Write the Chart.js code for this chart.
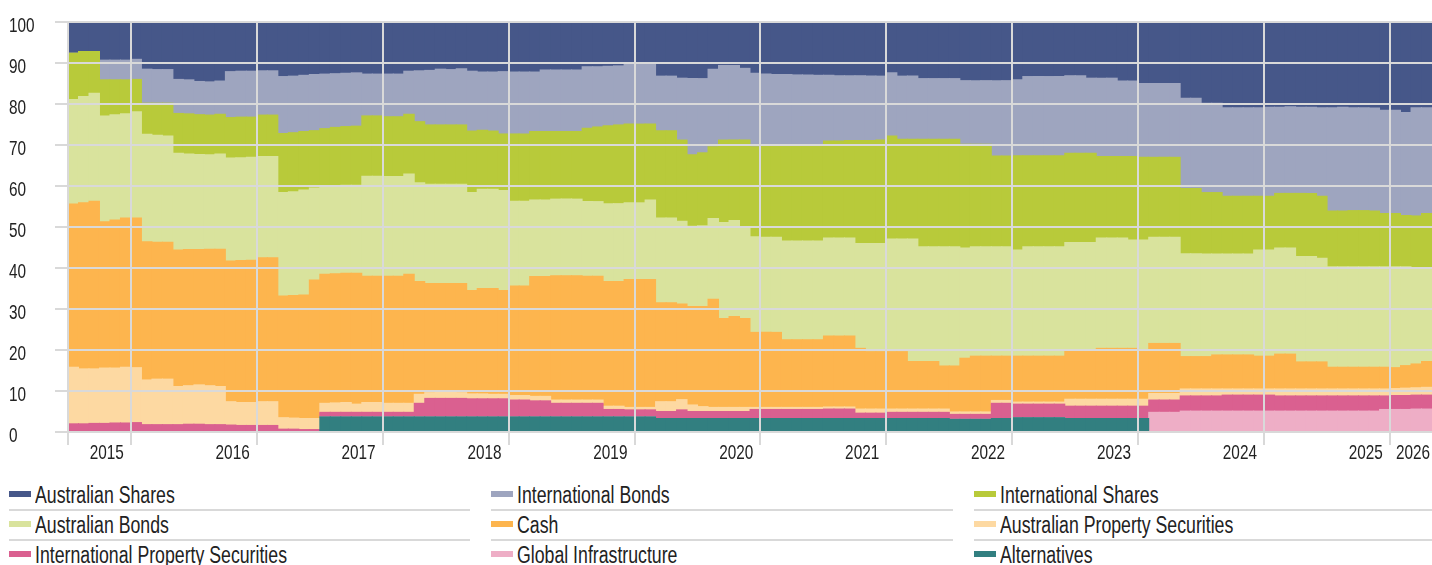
<!DOCTYPE html>
<html>
<head>
<meta charset="utf-8">
<script src="https://cdn.jsdelivr.net/npm/chart.js@4"></script>
<style>
  body { margin: 0; background: #fff; width: 1432px; height: 565px; overflow: hidden;
         font-family: 'Liberation Sans', Arial, sans-serif; }
  #wrap { position: absolute; left: 0; top: 0; width: 1432px; height: 470px; }
  #legend { position: absolute; left: 9px; top: 481px; display: grid;
            grid-template-columns: 461px 462px 459px; column-gap: 21px; }
  .item { position: relative; height: 28px; border-bottom: 2px solid #d9d9d9; padding-left: 26px;
          font-size: 23px; line-height: 28px; color: #222; white-space: nowrap; }
  .item i { position: absolute; left: 0; top: 10px; width: 22px; height: 6px; }
  .item span { display: inline-block; transform: scaleX(0.77); transform-origin: 0 0; }
</style>
</head>
<body>
<div id="wrap"><canvas id="mixChart"></canvas></div>
<div id="legend"></div>
<script>
// monthly asset allocation (%), Jul 2015 onwards
const ausShares = [
  7.6, 7.2, 7.2, 9.3, 9.3, 9.3, 9.1, 11.5, 11.6, 11.6,
  14.0, 14.1, 14.5, 14.6, 14.4, 12.1, 12.0, 12.0, 11.9, 11.9,
  13.3, 13.2, 13.0, 12.8, 12.7, 12.6, 12.5, 12.4, 12.7, 12.7,
  12.7, 12.7, 12.0, 11.9, 11.8, 11.5, 11.6, 11.4, 12.0, 12.2,
  12.2, 12.1, 12.2, 12.2, 12.2, 11.7, 11.7, 11.7, 11.7, 10.9,
  10.9, 10.8, 10.7, 10.2, 10.2, 10.2, 13.2, 13.2, 13.7, 13.8,
  13.8, 11.5, 10.6, 10.6, 11.3, 12.5, 12.7, 12.8, 12.8, 12.9,
  12.9, 13.0, 13.0, 13.1, 13.1, 13.1, 13.2, 13.2, 12.4, 13.2,
  13.2, 13.8, 13.8, 13.8, 13.8, 14.3, 14.3, 14.3, 14.3, 14.3,
  14.1, 13.3, 13.3, 13.3, 13.3, 13.1, 13.1, 13.7, 13.7, 13.7,
  14.4, 14.4, 15.0, 15.0, 15.0, 15.0, 18.6, 18.6, 19.8, 19.8,
  20.9, 20.9, 20.9, 20.9, 20.8, 20.8, 20.7, 20.8, 20.8, 20.9,
  20.9, 20.8, 20.9, 20.9, 21.0, 21.5, 21.5, 22.1, 20.9, 20.9
];
const intlBonds = [
  0, 0, 0, 4.8, 4.8, 4.8, 4.9, 8.3, 8.2, 8.2,
  8.3, 8.3, 8.1, 8.1, 8.1, 11.2, 11.2, 11.2, 10.8, 10.8,
  13.9, 13.8, 13.7, 13.7, 13.3, 13.1, 13.0, 13.0, 10.2, 10.2,
  10.4, 10.4, 10.5, 12.4, 13.3, 13.6, 13.5, 13.7, 14.6, 14.2,
  14.4, 15.2, 15.1, 15.1, 14.5, 15.0, 15.0, 15.0, 15.0, 15.0,
  14.7, 14.5, 14.4, 14.7, 14.7, 14.7, 13.3, 13.3, 15.1, 18.6,
  18.1, 18.9, 18.2, 18.2, 17.5, 17.9, 17.6, 17.5, 17.5, 17.4,
  17.4, 17.3, 16.0, 15.9, 15.8, 15.8, 15.7, 15.6, 15.4, 15.4,
  15.4, 14.8, 14.8, 14.8, 14.8, 15.5, 15.5, 15.5, 18.4, 18.4,
  18.5, 19.3, 19.3, 19.3, 19.3, 18.9, 18.9, 18.3, 19.1, 19.1,
  18.4, 18.4, 18.0, 18.0, 18.0, 18.0, 22.0, 22.0, 21.8, 21.8,
  21.6, 21.6, 21.6, 21.6, 21.7, 21.0, 21.1, 21.0, 21.0, 21.6,
  25.2, 25.3, 25.1, 25.1, 25.1, 25.2, 25.2, 25.1, 26.4, 25.8
];
const intlShares = [
  11.3, 11.0, 10.2, 8.8, 8.5, 8.3, 7.9, 7.6, 7.8, 8.0,
  9.7, 9.8, 9.7, 9.7, 9.7, 9.9, 9.9, 9.8, 10.1, 10.1,
  14.4, 14.4, 14.3, 14.0, 14.0, 14.2, 14.3, 14.4, 14.7, 14.7,
  14.6, 14.6, 14.6, 14.9, 14.5, 14.5, 14.5, 14.5, 15.0, 14.4,
  14.2, 13.8, 16.4, 16.4, 16.7, 16.7, 16.5, 16.5, 16.5, 17.9,
  18.2, 19.0, 19.2, 19.2, 19.2, 18.5, 21.3, 21.3, 19.8, 17.4,
  17.8, 17.5, 20.1, 19.6, 21.5, 22.0, 22.2, 22.2, 23.1, 23.1,
  23.1, 23.1, 23.7, 23.7, 23.8, 25.1, 25.1, 25.2, 25.1, 24.3,
  24.3, 26.2, 26.2, 26.2, 26.2, 25.3, 25.0, 25.0, 22.1, 22.1,
  23.0, 22.2, 22.2, 22.2, 22.2, 21.8, 21.8, 21.8, 19.9, 19.9,
  19.9, 20.4, 20.2, 19.5, 19.5, 19.5, 15.9, 15.9, 15.0, 15.0,
  14.1, 14.1, 14.1, 13.1, 13.1, 13.3, 13.3, 15.4, 15.4, 15.1,
  13.6, 13.6, 13.7, 13.7, 13.6, 13.0, 13.0, 12.5, 12.7, 13.3
];
const ausBonds = [
  25.5, 25.9, 26.3, 25.8, 25.7, 25.4, 25.9, 26.2, 26.1, 25.9,
  23.6, 23.3, 23.2, 23.0, 23.2, 25.1, 25.1, 25.1, 24.7, 24.7,
  25.2, 25.3, 25.6, 22.4, 21.5, 21.5, 21.5, 21.5, 24.4, 24.4,
  24.3, 24.3, 24.4, 24.1, 24.2, 24.2, 24.2, 24.2, 23.9, 24.2,
  24.2, 24.4, 20.7, 20.7, 18.7, 18.7, 18.7, 18.7, 18.7, 18.2,
  18.2, 19.0, 19.0, 18.7, 18.7, 19.4, 20.7, 20.7, 20.2, 19.6,
  19.7, 19.7, 23.4, 23.4, 22.0, 23.3, 23.2, 23.2, 24.1, 24.1,
  24.1, 24.1, 23.9, 23.9, 23.9, 25.6, 26.4, 26.4, 27.5, 27.5,
  29.9, 28.0, 28.0, 29.1, 29.1, 26.9, 26.7, 26.7, 26.7, 26.7,
  25.9, 26.7, 26.7, 26.7, 26.7, 26.2, 26.2, 26.2, 26.9, 26.9,
  26.9, 26.4, 26.7, 25.9, 25.9, 25.9, 25.1, 25.1, 25.0, 24.6,
  24.6, 24.6, 24.6, 25.9, 25.9, 25.9, 25.9, 25.7, 25.7, 25.3,
  24.5, 24.5, 24.5, 24.5, 24.5, 24.5, 24.6, 24.1, 23.4, 22.8
];
const cash = [
  39.8, 40.5, 40.9, 35.7, 36.1, 36.4, 36.5, 33.7, 33.4, 33.4,
  33.3, 33.2, 33.0, 33.3, 33.5, 34.3, 34.6, 34.7, 35.1, 35.1,
  29.7, 29.9, 30.1, 33.8, 31.5, 31.5, 31.5, 31.9, 30.8, 30.8,
  31.0, 31.0, 31.5, 27.5, 26.6, 26.5, 26.5, 26.6, 25.2, 25.7,
  25.8, 25.3, 26.7, 26.7, 29.2, 29.2, 30.3, 30.3, 30.3, 30.2,
  30.2, 30.4, 30.4, 31.2, 31.2, 31.2, 24.1, 24.1, 23.3, 24.0,
  24.4, 26.4, 21.7, 22.2, 21.7, 18.3, 18.3, 18.3, 16.5, 16.5,
  16.5, 16.5, 17.3, 17.3, 17.3, 14.8, 14.0, 14.0, 14.0, 14.0,
  11.6, 11.6, 11.6, 10.5, 11.2, 13.1, 13.6, 13.6, 10.8, 10.8,
  11.2, 11.2, 11.2, 11.2, 11.2, 12.0, 12.0, 12.0, 12.4, 12.4,
  12.4, 12.4, 12.1, 12.2, 12.2, 12.2, 7.9, 7.9, 7.9, 8.3,
  8.3, 8.3, 8.3, 8.0, 8.0, 8.5, 8.5, 6.6, 6.6, 6.6,
  5.3, 5.3, 5.3, 5.3, 5.3, 5.3, 5.1, 5.5, 5.8, 6.3
];
const ausProperty = [
  13.8, 13.4, 13.3, 13.5, 13.4, 13.6, 13.4, 10.9, 11.1, 11.1,
  9.3, 9.4, 9.6, 9.5, 9.3, 5.7, 5.6, 5.6, 5.8, 5.8,
  2.8, 2.7, 2.7, 2.7, 2.2, 2.3, 2.4, 2.0, 2.4, 2.4,
  2.2, 2.2, 2.2, 2.2, 1.4, 1.5, 1.5, 1.4, 1.2, 1.2,
  1.1, 1.1, 1.1, 1.1, 1.1, 1.1, 0.8, 0.8, 0.8, 0.8,
  0.8, 0.8, 0.8, 0.6, 0.6, 0.6, 2.4, 2.4, 2.5, 1.6,
  1.2, 1.0, 1.0, 1.0, 1.0, 0.5, 0.5, 0.5, 0.5, 0.5,
  0.5, 0.5, 0.5, 0.5, 0.5, 1.0, 1.0, 1.0, 0.8, 0.8,
  0.8, 0.8, 0.8, 0.8, 0.6, 0.6, 0.6, 0.6, 0.7, 0.7,
  0.5, 0.5, 0.5, 0.5, 0.5, 1.7, 1.7, 1.7, 1.7, 1.7,
  1.7, 1.7, 1.7, 1.6, 1.6, 1.6, 1.7, 1.7, 1.7, 1.7,
  1.5, 1.5, 1.5, 1.5, 1.5, 1.7, 1.7, 1.7, 1.7, 1.7,
  1.7, 1.7, 1.7, 1.7, 1.7, 1.7, 1.7, 1.8, 1.8, 1.9
];
const intlProperty = [
  2.0, 2.0, 2.1, 2.1, 2.2, 2.2, 2.3, 1.8, 1.8, 1.8,
  1.8, 1.9, 1.9, 1.8, 1.8, 1.7, 1.6, 1.6, 1.6, 1.6,
  0.7, 0.7, 0.6, 0.6, 1.1, 1.1, 1.1, 1.1, 1.1, 1.1,
  1.1, 1.1, 1.1, 3.3, 4.5, 4.5, 4.5, 4.5, 4.4, 4.4,
  4.4, 4.4, 4.1, 4.1, 3.9, 3.9, 3.3, 3.3, 3.3, 3.3,
  3.3, 1.8, 1.8, 1.7, 1.7, 1.7, 1.7, 1.7, 2.1, 1.7,
  1.7, 1.7, 1.7, 1.7, 1.7, 2.2, 2.2, 2.2, 2.2, 2.2,
  2.2, 2.2, 2.3, 2.3, 2.3, 1.3, 1.3, 1.3, 1.5, 1.5,
  1.5, 1.5, 1.5, 1.5, 1.2, 1.2, 1.2, 1.2, 3.7, 3.7,
  3.3, 3.3, 3.3, 3.3, 3.3, 3.0, 3.0, 3.0, 3.0, 3.0,
  3.0, 3.0, 3.0, 3.0, 3.0, 3.0, 3.7, 3.7, 3.7, 3.7,
  3.9, 3.9, 3.9, 3.9, 3.9, 3.7, 3.7, 3.7, 3.7, 3.7,
  3.7, 3.7, 3.7, 3.7, 3.7, 3.3, 3.4, 3.4, 3.4, 3.4
];
const globalInfra = [
  0, 0, 0, 0, 0, 0, 0, 0, 0, 0,
  0, 0, 0, 0, 0, 0, 0, 0, 0, 0,
  0, 0, 0, 0, 0, 0, 0, 0, 0, 0,
  0, 0, 0, 0, 0, 0, 0, 0, 0, 0,
  0, 0, 0, 0, 0, 0, 0, 0, 0, 0,
  0, 0, 0, 0, 0, 0, 0, 0, 0, 0,
  0, 0, 0, 0, 0, 0, 0, 0, 0, 0,
  0, 0, 0, 0, 0, 0, 0, 0, 0, 0,
  0, 0, 0, 0, 0, 0, 0, 0, 0, 0,
  0, 0, 0, 0, 0, 0, 0, 0, 0, 0,
  0, 0, 0, 4.8, 4.8, 4.8, 5.1, 5.1, 5.1, 5.1,
  5.1, 5.1, 5.1, 5.1, 5.1, 5.1, 5.1, 5.1, 5.1, 5.1,
  5.1, 5.1, 5.1, 5.1, 5.1, 5.5, 5.5, 5.5, 5.6, 5.6
];
const alternatives = [
  0, 0, 0, 0, 0, 0, 0, 0, 0, 0,
  0, 0, 0, 0, 0, 0, 0, 0, 0, 0,
  0, 0, 0, 0, 3.7, 3.7, 3.7, 3.7, 3.7, 3.7,
  3.7, 3.7, 3.7, 3.7, 3.7, 3.7, 3.7, 3.7, 3.7, 3.7,
  3.7, 3.7, 3.7, 3.7, 3.7, 3.7, 3.7, 3.7, 3.7, 3.7,
  3.7, 3.7, 3.7, 3.7, 3.7, 3.7, 3.3, 3.3, 3.3, 3.3,
  3.3, 3.3, 3.3, 3.3, 3.3, 3.3, 3.3, 3.3, 3.3, 3.3,
  3.3, 3.3, 3.3, 3.3, 3.3, 3.3, 3.3, 3.3, 3.3, 3.3,
  3.3, 3.3, 3.3, 3.3, 3.1, 3.1, 3.1, 3.1, 3.3, 3.3,
  3.5, 3.5, 3.5, 3.5, 3.5, 3.3, 3.3, 3.3, 3.3, 3.3,
  3.3, 3.3, 3.3, 0, 0, 0, 0, 0, 0, 0,
  0, 0, 0, 0, 0, 0, 0, 0, 0, 0,
  0, 0, 0, 0, 0, 0, 0, 0, 0, 0
];

// month categories, starting July 2015
const categories = [];
for (let i = 0; i < ausShares.length; i++) {
  const d = new Date(2015, 6 + i, 1);
  categories.push(d.getFullYear() + '-' + String(d.getMonth() + 1).padStart(2, '0'));
}

// year labels and the month each one sits under
const yearTicks = ['2015', '2016', '2017', '2018', '2019', '2020', '2021', '2022', '2023', '2024', '2025', '2026'];
const yearTickMonths = ['2015-10', '2016-10', '2017-10', '2018-10', '2019-10', '2020-10', '2021-10', '2022-10', '2023-10', '2024-10', '2025-10', '2026-03'];

// legend order (top of stack first)
const series = [
  { label: 'Australian Shares', data: ausShares, color: '#465789' },
  { label: 'International Bonds', data: intlBonds, color: '#9ea5bf' },
  { label: 'International Shares', data: intlShares, color: '#b8ca3a' },
  { label: 'Australian Bonds', data: ausBonds, color: '#d9e39d' },
  { label: 'Cash', data: cash, color: '#fdb54e' },
  { label: 'Australian Property Securities', data: ausProperty, color: '#fdd9a2' },
  { label: 'International Property Securities', data: intlProperty, color: '#da6090' },
  { label: 'Global Infrastructure', data: globalInfra, color: '#eeaec6' },
  { label: 'Alternatives', data: alternatives, color: '#327f80' }
];

const gridGray = '#d9d9d9';
const textColor = '#222';
const labelFont = "21px 'Liberation Sans', Arial, sans-serif";
const narrow = 0.73; // squeeze to mimic the condensed face

function narrowText(ctx, text, x, y) {
  ctx.save();
  ctx.translate(x, y);
  ctx.scale(narrow, 1);
  ctx.fillText(text, 0, 0);
  ctx.restore();
}

// axis labels drawn from the chart's own scales, condensed
const axisLabels = {
  id: 'axisLabels',
  afterDraw(chart) {
    const { ctx, chartArea } = chart;
    const x = chart.scales.x, y = chart.scales.y;
    ctx.save();
    ctx.fillStyle = textColor;
    ctx.font = labelFont;
    ctx.textBaseline = 'alphabetic';
    ctx.textAlign = 'left';
    y.ticks.forEach(t => narrowText(ctx, String(t.value), 9, y.getPixelForValue(t.value) + 9.5));
    ctx.textAlign = 'center';
    yearTicks.forEach((label, k) => {
      const i = categories.indexOf(yearTickMonths[k]);
      if (i < 0) return;
      const half = ctx.measureText(label).width * narrow / 2;
      // keep the last label inside the canvas
      const px = Math.min(x.getPixelForValue(i) + 2, chartArea.right - half - 2);
      narrowText(ctx, label, px, chartArea.bottom + 27);
    });
    ctx.restore();
  }
};

new Chart(document.getElementById('mixChart'), {
  type: 'bar',
  data: {
    labels: categories,
    // bottom of the stack is drawn first
    datasets: series.slice().reverse().map(s => ({
      label: s.label,
      data: s.data,
      backgroundColor: s.color,
      borderWidth: 0,
      inflateAmount: 0.5,
      barPercentage: 1,
      categoryPercentage: 1
    }))
  },
  options: {
    responsive: true,
    maintainAspectRatio: false,
    animation: false,
    devicePixelRatio: 1,
    layout: { padding: { left: 9, top: 22, right: 0, bottom: 0 } },
    plugins: { legend: { display: false }, tooltip: { enabled: false } },
    scales: {
      x: {
        stacked: true,
        offset: true,
        grid: {
          z: 1,
          offset: true,
          lineWidth: 2,
          tickLength: 13,
          color: ctx => {
            const m = categories[ctx.index];
            return (ctx.index === 0 || (m && m.endsWith('-01'))) ? gridGray : 'rgba(0,0,0,0)';
          }
        },
        border: { display: false },
        ticks: { display: false, autoSkip: false, maxRotation: 0 },
        afterFit: s => { s.height = 38; }
      },
      y: {
        stacked: true,
        min: 0,
        max: 100,
        grid: { z: 1, color: gridGray, lineWidth: 2, tickLength: 13 },
        border: { display: false },
        ticks: { display: false, stepSize: 10 },
        afterFit: s => { s.width = 59; }
      }
    }
  },
  plugins: [axisLabels]
});

// HTML legend, three columns
const legend = document.getElementById('legend');
series.forEach(s => {
  const item = document.createElement('div');
  item.className = 'item';
  const sw = document.createElement('i');
  sw.style.background = s.color;
  const txt = document.createElement('span');
  txt.textContent = s.label;
  item.appendChild(sw);
  item.appendChild(txt);
  legend.appendChild(item);
});
</script>
</body>
</html>
